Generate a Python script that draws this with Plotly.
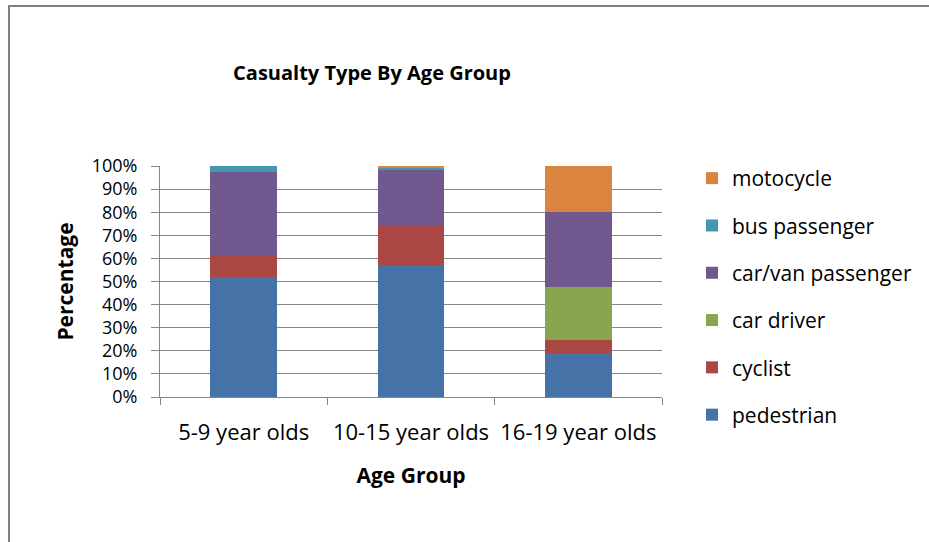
import plotly.graph_objects as go

categories = ["5-9 year olds", "10-15 year olds", "16-19 year olds"]
series_names = ["pedestrian", "cyclist", "car driver", "car/van passenger", "bus passenger", "motocycle"]
pedestrian = [52.1, 57.1, 18.9]
cyclist = [8.9, 17.1, 5.6]
car_driver = [0.0, 0.0, 23.1]
car_van_passenger = [36.4, 24.4, 32.6]
bus_passenger = [2.6, 0.8, 0.0]
motocycle = [0.0, 0.6, 19.8]
colors = ["#4572A7", "#AA4643", "#89A54E", "#71588F", "#4198AF", "#DB843D"]
y_ticks = [0, 10, 20, 30, 40, 50, 60, 70, 80, 90, 100]
y_ticklabels = [f"{v}%" for v in y_ticks]

values = [pedestrian, cyclist, car_driver, car_van_passenger, bus_passenger, motocycle]

font_family = "Open Sans, Noto Sans, Arial, sans-serif"
W, H = 929, 542
L, R, T, B = 160, 267, 166, 145
pw, ph = W - L - R, H - T - B

fig = go.Figure()
n = len(series_names)
for i, (name, vals, col) in enumerate(zip(series_names, values, colors)):
    fig.add_trace(go.Bar(
        x=categories, y=vals, name=name, marker=dict(color=col, line=dict(width=0)),
        legendgroup=name, legendrank=n - i,
    ))

fig.update_layout(
    barmode="stack",
    bargap=0.6,
    width=W, height=H,
    paper_bgcolor="white", plot_bgcolor="white",
    margin=dict(l=L, r=R, t=T, b=B, autoexpand=False),
    font=dict(family=font_family, size=22, color="#000000"),
    title=dict(text="<b>Casualty Type By Age Group</b>", x=372/W, xanchor="center",
               y=1 - 73/H, yanchor="middle", font=dict(size=20)),
    legend=dict(traceorder="grouped", tracegroupgap=17, x=692/W, xanchor="left",
                y=1 - 158/H, yanchor="top", xref="container", yref="container",
                font=dict(size=21), itemwidth=30, bgcolor="rgba(0,0,0,0)", maxheight=400),
    showlegend=True,
)
fig.update_xaxes(
    showline=True, linecolor="#868686", linewidth=1,
    ticks="outside", ticklen=7, tickcolor="#868686",
    tickson="boundaries", ticklabelstandoff=16,
    title=dict(text="<b>Age Group</b>", font=dict(size=21), standoff=22),
    tickfont=dict(size=22),
)
fig.update_yaxes(
    range=[0, 100], tickvals=y_ticks, ticktext=y_ticklabels,
    showline=True, linecolor="#868686", linewidth=1,
    ticks="outside", ticklen=8, tickcolor="#868686",
    showgrid=True, gridcolor="#868686", gridwidth=1, ticklabelstandoff=10,
    title=dict(text="<b>Percentage</b>", font=dict(size=21), standoff=12),
    tickfont=dict(size=18),
)
fig.add_shape(type="rect", xref="paper", yref="paper",
              x0=-(L - 9)/pw, x1=(W - L + 40)/pw,
              y0=-(B + 40)/ph, y1=1 + (T - 6)/ph,
              line=dict(color="#7F7F7F", width=2), layer="below")

fig.write_html("out.html", config={"displayModeBar": False},
               post_script="document.body.style.margin='0';document.body.style.overflow='hidden';")
